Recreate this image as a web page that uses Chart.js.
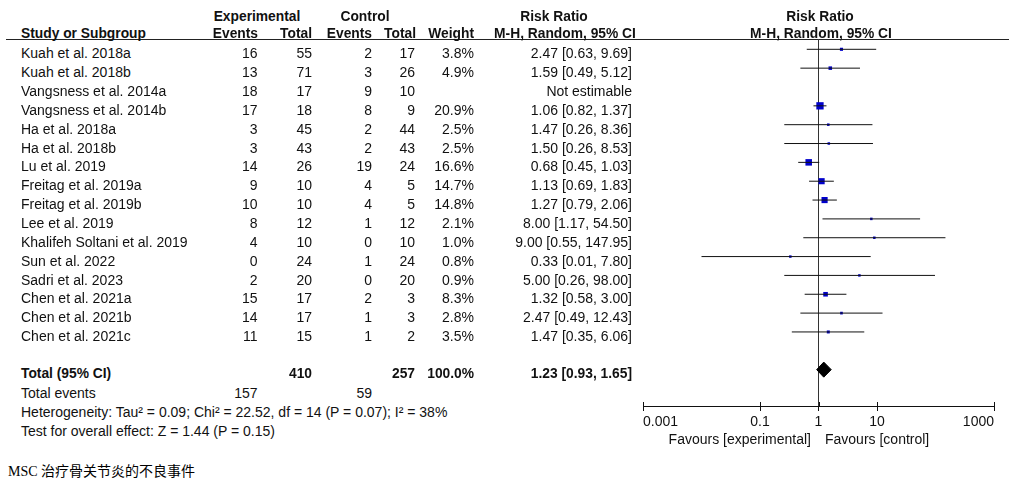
<!DOCTYPE html>
<html><head><meta charset="utf-8">
<script src="https://cdn.jsdelivr.net/npm/chart.js@4.4.0/dist/chart.umd.min.js"></script>
<style>
html,body{margin:0;padding:0;background:#fff;}
#wrap{position:relative;width:1009px;height:480px;overflow:hidden;font-family:"Liberation Sans",Arial,sans-serif;font-size:14px;color:#111;background:#fff;}
.t{position:absolute;white-space:nowrap;height:19px;line-height:19px;}
.r{text-align:right;width:220px;}
.c{text-align:center;width:240px;}
.b{font-weight:bold;font-size:13.8px;}
#hline{position:absolute;left:6px;top:39px;width:1003px;height:1px;background:#222;}
#cap{position:absolute;left:8px;top:460px;height:20px;line-height:20px;font-size:14px;font-family:"Liberation Serif","Noto Sans CJK SC",serif;color:#000;white-space:nowrap;}
#cap span{font-family:"Noto Sans CJK SC",sans-serif;}
#cv{position:absolute;left:600px;top:0;}
</style></head>
<body><div id="wrap"><div id="hline"></div><canvas id="cv" width="409" height="480"></canvas><div id="cap">MSC <span>治疗骨关节炎的不良事件</span></div></div>
<script>
// ---- data ----
const studies = ["Kuah et al. 2018a","Kuah et al. 2018b","Vangsness et al. 2014a","Vangsness et al. 2014b","Ha et al. 2018a","Ha et al. 2018b","Lu et al. 2019","Freitag et al. 2019a","Freitag et al. 2019b","Lee et al. 2019","Khalifeh Soltani et al. 2019","Sun et al. 2022","Sadri et al. 2023","Chen et al. 2021a","Chen et al. 2021b","Chen et al. 2021c"];
const expEvents = [16,13,18,17,3,3,14,9,10,8,4,0,2,15,14,11];
const expTotal  = [55,71,17,18,45,43,26,10,10,12,10,24,20,17,17,15];
const ctlEvents = [2,3,9,8,2,2,19,4,4,1,0,1,0,2,1,1];
const ctlTotal  = [17,26,10,9,44,43,24,5,5,12,10,24,20,3,3,2];
const weights   = [3.8,4.9,null,20.9,2.5,2.5,16.6,14.7,14.8,2.1,1.0,0.8,0.9,8.3,2.8,3.5];
const rr        = [2.47,1.59,null,1.06,1.47,1.50,0.68,1.13,1.27,8.00,9.00,0.33,5.00,1.32,2.47,1.47];
const ciLow     = [0.63,0.49,null,0.82,0.26,0.26,0.45,0.69,0.79,1.17,0.55,0.01,0.26,0.58,0.49,0.35];
const ciHigh    = [9.69,5.12,null,1.37,8.36,8.53,1.03,1.83,2.06,54.50,147.95,7.80,98.00,3.00,12.43,6.06];
const totalExp = 410, totalCtl = 257, totalWeight = 100.0;
const totalRR = 1.23, totalLow = 0.93, totalHigh = 1.65;
const totalExpEvents = 157, totalCtlEvents = 59;
const heterogeneity = "Heterogeneity: Tau² = 0.09; Chi² = 22.52, df = 14 (P = 0.07); I² = 38%";
const overallTest = "Test for overall effect: Z = 1.44 (P = 0.15)";
const tickValues = [0.001, 0.1, 1, 10, 1000];
const tickLabels = ["0.001","0.1","1","10","1000"];

// ---- table text (HTML) ----
const wrap = document.getElementById('wrap');
function put(text, x, cy, align, bold){
  const d = document.createElement('div');
  d.className = 't' + (align==='r'?' r':align==='c'?' c':'') + (bold?' b':'');
  let left = x;
  if (align==='r') left = x - 220;
  if (align==='c') left = x - 120;
  d.style.left = left + 'px';
  d.style.top = (cy - 9.5) + 'px';
  d.textContent = text;
  wrap.appendChild(d);
}
const colX = {name:21, eE:257.5, eT:312, cE:372, cT:415, w:474, rr:632};
// headers
put("Experimental", 257, 16, 'c', true);
put("Control", 365, 16, 'c', true);
put("Risk Ratio", 554, 16, 'c', true);
put("Risk Ratio", 820, 16, 'c', true);
put("Study or Subgroup", colX.name, 33, 'l', true);
put("Events", 258, 33, 'r', true);
put("Total", 312, 33, 'r', true);
put("Events", 372, 33, 'r', true);
put("Total", 416, 33, 'r', true);
put("Weight", 474, 33, 'r', true);
put("M-H, Random, 95% CI", 565, 33, 'c', true);
put("M-H, Random, 95% CI", 821, 33, 'c', true);
const rowTextY = i => 53.8 + 18.85 * i;
const fmtCI = (a,b,c) => a.toFixed(2) + ' [' + b.toFixed(2) + ', ' + c.toFixed(2) + ']';
studies.forEach((s,i)=>{
  const y = rowTextY(i);
  put(s, colX.name, y, 'l');
  put(String(expEvents[i]), colX.eE, y, 'r');
  put(String(expTotal[i]), colX.eT, y, 'r');
  put(String(ctlEvents[i]), colX.cE, y, 'r');
  put(String(ctlTotal[i]), colX.cT, y, 'r');
  put(weights[i]==null ? '' : weights[i].toFixed(1)+'%', colX.w, y, 'r');
  put(rr[i]==null ? 'Not estimable' : fmtCI(rr[i], ciLow[i], ciHigh[i]), colX.rr, y, 'r');
});
const totalRow = studies.length + 1;
const ty = 373;
put("Total (95% CI)", colX.name, ty, 'l', true);
put(String(totalExp), colX.eT, ty, 'r', true);
put(String(totalCtl), colX.cT, ty, 'r', true);
put(totalWeight.toFixed(1)+'%', colX.w, ty, 'r', true);
put(fmtCI(totalRR, totalLow, totalHigh), colX.rr, ty, 'r', true);
put("Total events", colX.name, 393, 'l');
put(String(totalExpEvents), colX.eE, 393, 'r');
put(String(totalCtlEvents), colX.cE, 393, 'r');
put(heterogeneity, colX.name, 412, 'l');
put(overallTest, colX.name, 431, 'l');
put("Favours [experimental]", 811, 439, 'r');
put("Favours [control]", 825, 439, 'l');

// ---- forest plot (Chart.js) ----
const FONT = '"Liberation Sans", Arial, sans-serif';
const datasets = [];
studies.forEach((s,i)=>{
  if (rr[i]==null) return;
  datasets.push({data:[{x:ciLow[i],y:i},{x:ciHigh[i],y:i}], showLine:true, borderColor:'#111', borderWidth:1, pointRadius:0});
});
const pts = [], radii = [];
studies.forEach((s,i)=>{
  if (rr[i]==null) return;
  pts.push({x:rr[i], y:i});
  radii.push(Math.max(2.5, 1.6*Math.sqrt(weights[i])) / Math.SQRT2);
});
datasets.push({data:pts, pointStyle:'rect', pointRadius:radii, backgroundColor:'#0000cc', borderWidth:0, showLine:false});
const dh = 0.4;
datasets.push({data:[{x:totalLow,y:totalRow},{x:totalRR,y:totalRow-dh},{x:totalHigh,y:totalRow},{x:totalRR,y:totalRow+dh},{x:totalLow,y:totalRow}],
  showLine:true, fill:'shape', backgroundColor:'#000', borderColor:'#000', borderWidth:1, pointRadius:0, tension:0});

const upTicks = {id:'upTicks', afterDraw(chart){
  const s = chart.scales.x, ctx = chart.ctx, b = chart.chartArea.bottom;
  ctx.save(); ctx.strokeStyle = '#111'; ctx.lineWidth = 1;
  s.ticks.forEach(t=>{ const x = Math.round(s.getPixelForValue(t.value)) + 0.5;
    ctx.beginPath(); ctx.moveTo(x, b-4); ctx.lineTo(x, b); ctx.stroke(); });
  ctx.restore();
}};

new Chart(document.getElementById('cv'), {
  type:'scatter',
  data:{datasets},
  plugins:[upTicks],
  options:{
    responsive:false, animation:false,
    layout:{padding:{left:43, right:15, top:39, bottom:49}},
    plugins:{legend:{display:false}, tooltip:{enabled:false}},
    scales:{
      x:{type:'logarithmic', min:0.001, max:1000, position:'bottom',
        afterBuildTicks: s => { s.ticks = tickValues.map(v=>({value:v})); },
        afterFit: s => { s.height = 25; },
        ticks:{align:'inner', color:'#111', padding:3, maxRotation:0, autoSkip:false,
          font:{family:FONT, size:14}, callback:(v,i)=>tickLabels[i]},
        grid:{color: c => (c.tick && c.tick.value===1) ? '#333' : 'rgba(0,0,0,0)', tickColor:'#111', tickLength:5, lineWidth:1},
        border:{display:true, color:'#111', width:1}
      },
      y:{type:'linear', display:false, reverse:true, min:-0.547, max:18.93}
    }
  }
});
</script>
</body></html>
